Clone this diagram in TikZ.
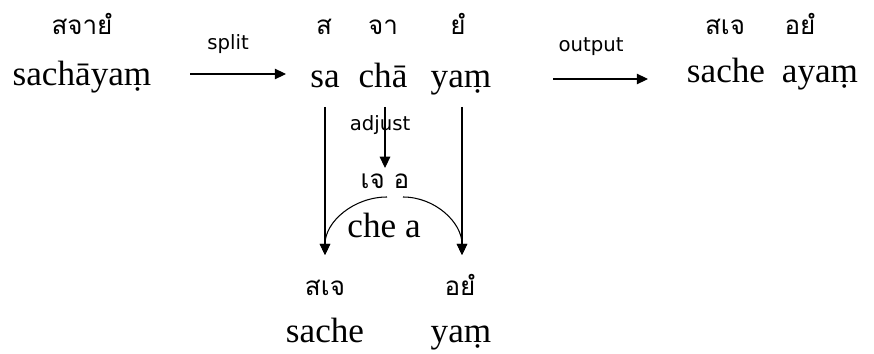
\documentclass[tikz,border=0pt]{standalone}
\usepackage{fontspec}
\setmainfont{Liberation Serif}
\newfontfamily\thaifont[Script=Thai]{Loma}
\newfontfamily\labelfont{DejaVu Sans}
\usetikzlibrary{arrows.meta,calc}

\begin{document}
\begin{tikzpicture}[x=0.025cm, y=-0.025cm, line width=0.75pt, >={Triangle[length=8pt,width=7.5pt]},
  thai/.style={font=\thaifont\fontsize{18.5}{22}\selectfont, inner sep=0pt, anchor=base},
  roman/.style={font=\fontsize{25}{30}\selectfont, inner sep=0pt, anchor=base},
  lbl/.style={font=\labelfont\fontsize{14}{16}\selectfont, inner sep=0pt, anchor=base}]
  \useasboundingbox (0,0) rectangle (874,354);

  % source word
  \node[thai] (srcTh) at (82,35) {สจายํ};
  \node[roman] (src) at (82,86) {sachāyaṃ};

  % split step
  \node[lbl] (split) at (228,50) {split};
  \coordinate (s1) at (190,74);
  \coordinate (s2) at (286,74);
  \draw[->] (s1) -- (s2);

  % parts
  \node[thai] (saTh) at (324,35) {ส};
  \node[thai] (chaTh) at (383,35) {จา};
  \node[thai] (yaTh) at (458,35) {ยํ};
  \node[roman] (sa) at (325,88) {sa};
  \node[roman] (cha) at (383,88) {chā};
  \node[roman] (ya) at (461,88) {yaṃ};

  % output step
  \node[lbl] (out) at (591,52) {output};
  \coordinate (o1) at (553,79);
  \coordinate (o2) at (648,79);
  \draw[->] (o1) -- (o2);
  \node[thai] (r1Th) at (725,35) {สเจ};
  \node[thai] (r2Th) at (800,35) {อยํ};
  \node[roman] (r1) at (726,83) {sache};
  \node[roman] (r2) at (820,83) {ayaṃ};

  % adjust step
  \coordinate (vtop) at (0,107);
  \coordinate (vbot) at (0,255);
  \node[lbl] (adjust) at (380,131) {adjust};
  \node[thai] (mid) at (385,188) {เจ อ};
  \node[roman] (chea) at (384,237) {che a};
  \draw[->] (385,107) -- (385,168);
  \draw[->] (sa |- vtop) -- (sa |- vbot);
  \draw[->] (462,107) -- (462,255);
  \coordinate (archL) at (387,197);
  \coordinate (archR) at (403,197);
  \draw[->] (archL) to[out=180,in=90] (sa |- vbot);
  \draw[->] (archR) to[out=0,in=90] (462,255);

  % final words
  \node[thai] (fTh1) at (325,295) {สเจ};
  \node[thai] (fTh2) at (460,295) {อยํ};
  \node[roman] (f1) at (325,342) {sache};
  \node[roman] (f2) at (461,342) {yaṃ};
\end{tikzpicture}
\end{document}
